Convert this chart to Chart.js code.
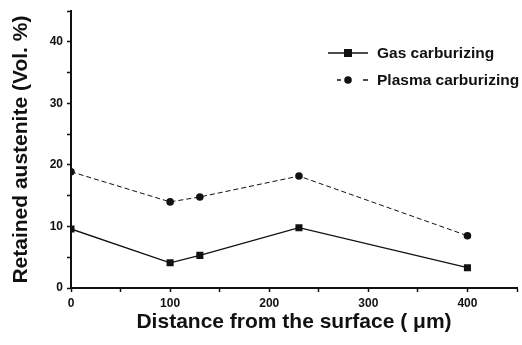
<!DOCTYPE html>
<html>
<head>
<meta charset="utf-8">
<script src="https://cdn.jsdelivr.net/npm/chart.js@4"></script>
<style>
  html, body { margin: 0; padding: 0; background: #fff; }
</style>
</head>
<body>
<canvas id="myChart" width="522" height="345"></canvas>
<script>
const distances = [0, 100, 130, 230, 400];
const gasValues = [9.6, 4.1, 5.3, 9.8, 3.3];
const plasmaValues = [18.9, 14.0, 14.8, 18.2, 8.5];
const xTicks = [0, 100, 200, 300, 400];
const yTicks = [0, 10, 20, 30, 40];
const seriesNames = ['Gas carburizing', 'Plasma carburizing'];

const ink = '#111';
const fontFamily = "'Liberation Sans', Arial, sans-serif";
const boldFont = "bold 15.5px " + fontFamily;

function toPoints(xs, ys) {
  return xs.map((x, i) => ({ x: x, y: ys[i] }));
}

// small legend box inside the plot, drawn by hand
const legendBox = {
  id: 'legendBox',
  afterDraw(chart) {
    const c = chart.ctx;
    c.save();
    c.fillStyle = ink;
    c.strokeStyle = ink;
    c.lineWidth = 1.3;
    c.font = boldFont;
    c.textBaseline = 'middle';

    // gas: solid line with square
    let y = 53;
    c.beginPath();
    c.moveTo(328, y); c.lineTo(368, y);
    c.stroke();
    c.fillRect(344, y - 4, 8, 8);
    c.fillText(seriesNames[0], 377, y + 1);

    // plasma: broken line with dot
    y = 80;
    c.beginPath();
    c.moveTo(337, y); c.lineTo(341, y);
    c.moveTo(363, y); c.lineTo(368, y);
    c.stroke();
    c.beginPath();
    c.arc(348, y, 3.8, 0, Math.PI * 2);
    c.fill();
    c.fillText(seriesNames[1], 377, y + 1);
    c.restore();
  }
};

let tickFont = { family: fontFamily, size: 12, weight: 'bold' };
let titleFont = { family: fontFamily, size: 21, weight: 'bold' };

new Chart(document.getElementById('myChart'), {
  type: 'line',
  data: {
    datasets: [{
      label: seriesNames[0],
      data: toPoints(distances, gasValues),
      borderColor: ink,
      backgroundColor: ink,
      borderWidth: 1.3,
      pointStyle: 'rect',
      pointRadius: 5,
      pointBorderWidth: 0,
      tension: 0
    }, {
      label: seriesNames[1],
      data: toPoints(distances, plasmaValues),
      borderColor: ink,
      backgroundColor: ink,
      borderWidth: 1,
      borderDash: [5, 3],
      pointStyle: 'circle',
      pointRadius: 3.8,
      pointBorderWidth: 0,
      tension: 0
    }]
  },
  options: {
    responsive: false,
    animation: false,
    devicePixelRatio: 1,
    layout: { padding: { top: 11, right: 2, left: 0, bottom: 0 } },
    plugins: {
      legend: { display: false },
      tooltip: { enabled: false }
    },
    scales: {
      x: {
        type: 'linear',
        min: 0,
        max: 450,
        border: { display: true, color: ink, width: 2 },
        grid: {
          drawOnChartArea: false,
          tickLength: 4,
          tickColor: ink,
          tickWidth: 1.5
        },
        ticks: {
          stepSize: 50,
          color: ink,
          font: tickFont,
          padding: 4,
          maxRotation: 0,
          callback: v => xTicks.includes(v) ? String(v) : ''
        },
        title: {
          display: true,
          text: 'Distance from the surface ( \u03bcm)',
          color: ink,
          font: titleFont,
          padding: { top: 0, bottom: 10 }
        },
        afterFit(scale) { scale.height = 57; }
      },
      y: {
        min: 0,
        max: 45,
        border: { display: true, color: ink, width: 2 },
        grid: {
          drawOnChartArea: false,
          tickLength: 4,
          tickColor: ink,
          tickWidth: 1.5
        },
        ticks: {
          stepSize: 5,
          color: ink,
          font: tickFont,
          padding: 4,
          callback: v => yTicks.includes(v) ? String(v) : ''
        },
        title: {
          display: true,
          text: 'Retained austenite (Vol. %)',
          color: ink,
          font: titleFont,
          padding: { top: 9, bottom: 0 }
        },
        afterFit(scale) { scale.width = 71; }
      }
    }
  },
  plugins: [legendBox]
});
</script>
</body>
</html>
